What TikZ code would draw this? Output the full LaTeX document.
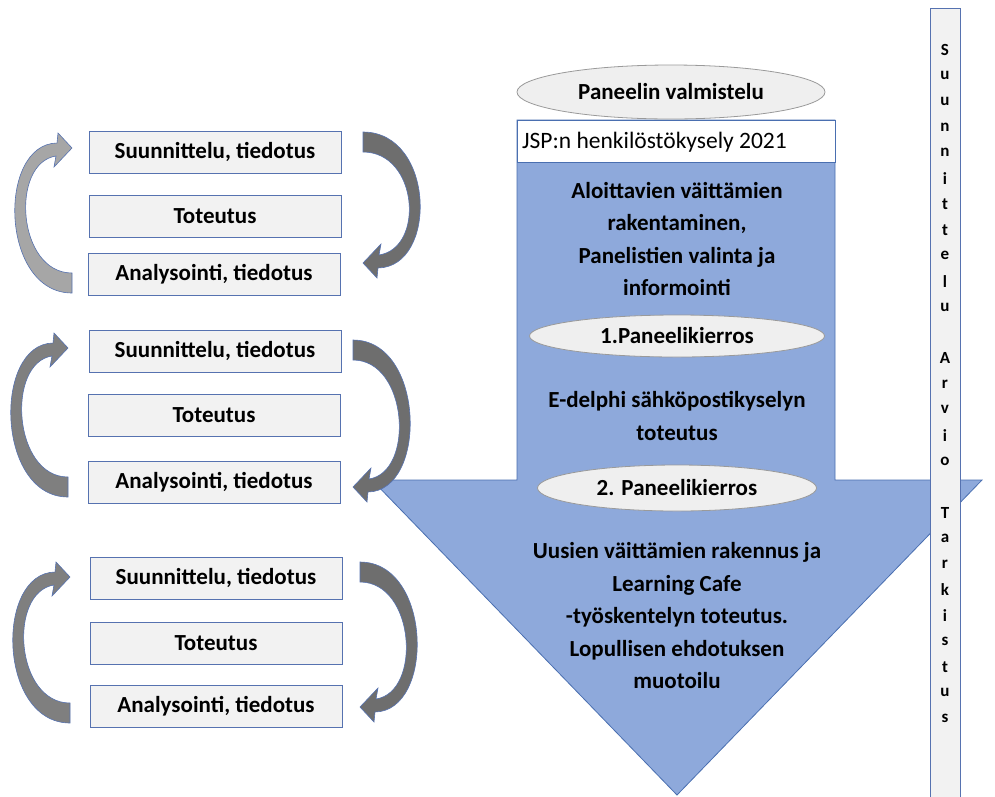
\documentclass[tikz,border=0pt]{standalone}
\usepackage{fontspec}
\setmainfont{Carlito}
\usetikzlibrary{shapes.geometric}
\definecolor{arrblue}{HTML}{8EA9DB}
\definecolor{arredge}{HTML}{4A6FB0}
\definecolor{boxfill}{HTML}{F2F2F2}
\definecolor{boxedge}{HTML}{5672B0}
\definecolor{ellfill}{HTML}{EFEFEF}
\definecolor{elledge}{HTML}{9A9A9A}
\definecolor{grayA}{HTML}{A6A6A6}
\definecolor{grayB}{HTML}{7F7F7F}
\definecolor{grayC}{HTML}{6E6E6E}
\newcommand{\cycarrow}[5]{% #1 x, #2 tip y, #3 length, #4 rotation, #5 fill
  \filldraw[cyc, fill=#5, shift={(#1,#2)}, rotate=#4]
    (0,#3-10) .. controls (-55,#3-10) and (-62,15) .. (-16,8) -- (-18,19) -- (0,0)
    -- (-14,-15) -- (-15,-5) .. controls (-75,-4) and (-72,#3+10) .. (0,#3+10) -- cycle;}
\begin{document}
\begin{tikzpicture}[x=1pt,y=-1pt,
  every node/.style={font=\fontsize{23}{32.5}\selectfont\bfseries, text=black},
  stagebox/.style={draw=boxedge, fill=boxfill, line width=1pt, minimum width=252pt, minimum height=42pt, inner sep=0pt},
  roundell/.style={ellipse, draw=elledge, fill=ellfill, line width=0.8pt, inner sep=0pt},
  arrtext/.style={align=center},
  vletter/.style={font=\fontsize{17}{18}\selectfont\bfseries, inner sep=0pt},
  cyc/.style={draw=boxedge, line width=0.6pt}]
\useasboundingbox (0,0) rectangle (995,796);
\clip (0,0) rectangle (995,796);
% big arrow
\filldraw[fill=arrblue, draw=arredge, line width=0.8pt]
  (517,120) -- (835,120) -- (835,480) -- (982,480) -- (677,795) -- (372,480) -- (517,480) -- cycle;
% vertical bar
\filldraw[fill=boxfill, draw=boxedge, line width=1pt] (930,8) rectangle (960,810);
\foreach \c [count=\i] in {S,u,u,n,n,i,t,t,e,l,u,{},A,r,v,i,o,{},T,a,r,k,i,s,t,u,s}
  \node[vletter] (v\i) at (945,{50+25.7*(\i-1)}) {\c};
% top ellipse and JSP box
\node[roundell, minimum width=308pt, minimum height=54pt] (prep) at (671,92) {Paneelin valmistelu};
\node[draw=arredge, fill=white, line width=0.8pt, minimum width=318pt, minimum height=42pt, inner sep=0pt] (jsp) at (676,141) {};
\node[anchor=west, font=\fontsize{23.5}{24}\selectfont, inner sep=0pt] (jsptext) at (522,142) {JSP:n henkilöstökysely 2021};
% arrow contents
\node[arrtext] (t1) at (677,239) {Aloittavien väittämien\\rakentaminen,\\Panelistien valinta ja\\informointi};
\node[roundell, minimum width=295pt, minimum height=42pt] (r1) at (677,336) {1.Paneelikierros};
\node[arrtext] (t2) at (677,416) {E-delphi sähköpostikyselyn\\toteutus};
\node[roundell, minimum width=279pt, minimum height=46pt] (r2) at (677,488) {2. Paneelikierros};
\node[arrtext] (t3) at (677,616) {Uusien väittämien rakennus ja\\Learning Cafe\\-työskentelyn toteutus.\\Lopullisen ehdotuksen\\muotoilu};
% left boxes
\node[stagebox] (s1) at (215,152) {Suunnittelu, tiedotus};
\node[stagebox] (e1) at (215,216) {Toteutus};
\node[stagebox] (a1) at (214,274) {Analysointi, tiedotus};
\node[stagebox] (s2) at (215,351) {Suunnittelu, tiedotus};
\node[stagebox] (e2) at (214,415) {Toteutus};
\node[stagebox] (a2) at (214,482) {Analysointi, tiedotus};
\node[stagebox] (s3) at (216,578) {Suunnittelu, tiedotus};
\node[stagebox] (e3) at (216,643) {Toteutus};
\node[stagebox] (a3) at (216,706) {Analysointi, tiedotus};
% cycle arrows
\cycarrow{72}{148}{135}{0}{grayA}
\cycarrow{68}{348}{139}{0}{grayB}
\cycarrow{70}{577}{136}{0}{grayB}
\cycarrow{363}{263}{121}{180}{grayC}
\cycarrow{353}{487}{137}{180}{grayC}
\cycarrow{360}{707}{135}{180}{grayC}
\end{tikzpicture}
\end{document}
